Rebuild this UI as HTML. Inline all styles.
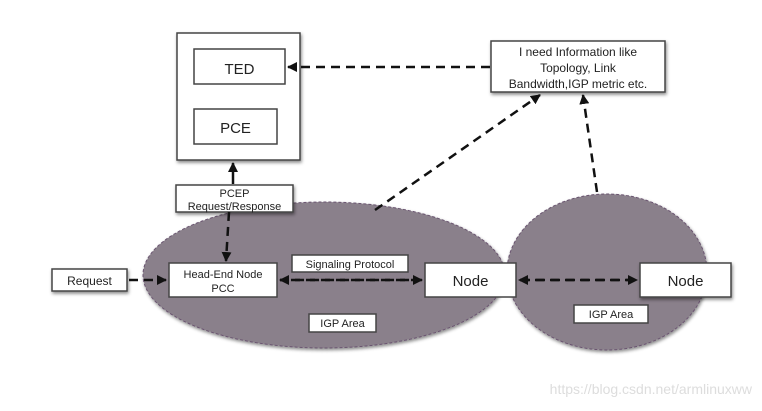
<!DOCTYPE html>
<html><head><meta charset="utf-8"><style>
html,body{margin:0;padding:0;background:#fff;}
svg text{font-family:"Liberation Sans",Arial,sans-serif;fill:#222;}
</style></head><body>
<svg width="762" height="406" viewBox="0 0 762 406" xmlns="http://www.w3.org/2000/svg">
<defs>
<marker id="a" markerWidth="10" markerHeight="10" refX="9" refY="5" orient="auto" markerUnits="userSpaceOnUse">
<path d="M0,0 L10,5 L0,10 z" fill="#111"/></marker>
<filter id="s" x="-20%" y="-20%" width="140%" height="150%"><feDropShadow dx="1" dy="2" stdDeviation="1.5" flood-color="#000" flood-opacity="0.45"/></filter>
</defs>
<rect width="762" height="406" fill="#fff"/>
<ellipse cx="324" cy="275" rx="181" ry="73" fill="#8a808b" stroke="#6a5470" stroke-dasharray="3,2" filter="url(#s)"/>
<ellipse cx="607" cy="272" rx="100" ry="78" fill="#8a808b" stroke="#6a5470" stroke-dasharray="3,2" filter="url(#s)"/>
<g stroke="#444" stroke-width="1.5" fill="#fff">
<rect x="177" y="33" width="123" height="127" filter="url(#s)"/>
<rect x="194" y="49" width="91" height="35"/>
<rect x="194" y="109" width="83" height="35"/>
<rect x="176" y="185" width="117" height="27" filter="url(#s)"/>
<rect x="491" y="41" width="174" height="51" filter="url(#s)"/>
<rect x="52" y="269" width="75" height="22" filter="url(#s)"/>
<rect x="169" y="263" width="108" height="34"/>
<rect x="292" y="255" width="116" height="17"/>
<rect x="425" y="263" width="91" height="34"/>
<rect x="640" y="263" width="91" height="34" filter="url(#s)"/>
<rect x="309" y="314" width="67" height="18"/>
<rect x="574" y="305" width="74" height="18"/>
</g>
<g stroke="#111" stroke-width="2.5" fill="none" stroke-dasharray="9,6">
<line x1="490" y1="67" x2="288" y2="67" marker-end="url(#a)"/>
<line x1="375" y1="210" x2="540" y2="95" marker-end="url(#a)"/>
<line x1="597" y1="192" x2="583" y2="95" marker-end="url(#a)"/>
<line x1="229" y1="212" x2="226" y2="261" marker-end="url(#a)"/>
<line x1="280" y1="280" x2="422" y2="280" marker-end="url(#a)"/>
<line x1="420" y1="280" x2="280" y2="280" marker-end="url(#a)"/>
<line x1="520" y1="280" x2="637" y2="280" marker-end="url(#a)"/>
<line x1="635" y1="280" x2="519" y2="280" marker-end="url(#a)"/>
<line x1="129" y1="280" x2="166" y2="280" marker-end="url(#a)"/>
</g>
<line x1="233" y1="184" x2="233" y2="163" stroke="#111" stroke-width="2.5" marker-end="url(#a)"/>
<text x="239.5" y="74" font-size="15" text-anchor="middle">TED</text>
<text x="235.5" y="133" font-size="15" text-anchor="middle">PCE</text>
<text x="234.5" y="197" font-size="11" text-anchor="middle">PCEP</text>
<text x="234.5" y="210" font-size="11" text-anchor="middle">Request/Response</text>
<text x="578" y="56" font-size="12" text-anchor="middle">I need Information like</text>
<text x="578" y="72" font-size="12" text-anchor="middle">Topology, Link</text>
<text x="578" y="88" font-size="12" text-anchor="middle">Bandwidth,IGP metric etc.</text>
<text x="89.5" y="285" font-size="12" text-anchor="middle">Request</text>
<text x="223" y="278" font-size="11" text-anchor="middle">Head-End Node</text>
<text x="223" y="292" font-size="11" text-anchor="middle">PCC</text>
<text x="350" y="268" font-size="11" text-anchor="middle">Signaling Protocol</text>
<text x="470.5" y="286" font-size="15" text-anchor="middle">Node</text>
<text x="685.5" y="286" font-size="15" text-anchor="middle">Node</text>
<text x="342.5" y="327" font-size="11" text-anchor="middle">IGP Area</text>
<text x="611" y="318" font-size="11" text-anchor="middle">IGP Area</text>
<text x="752" y="394" font-size="14" text-anchor="end" style="fill:#ddd">https://blog.csdn.net/armlinuxww</text>
</svg>
</body></html>
